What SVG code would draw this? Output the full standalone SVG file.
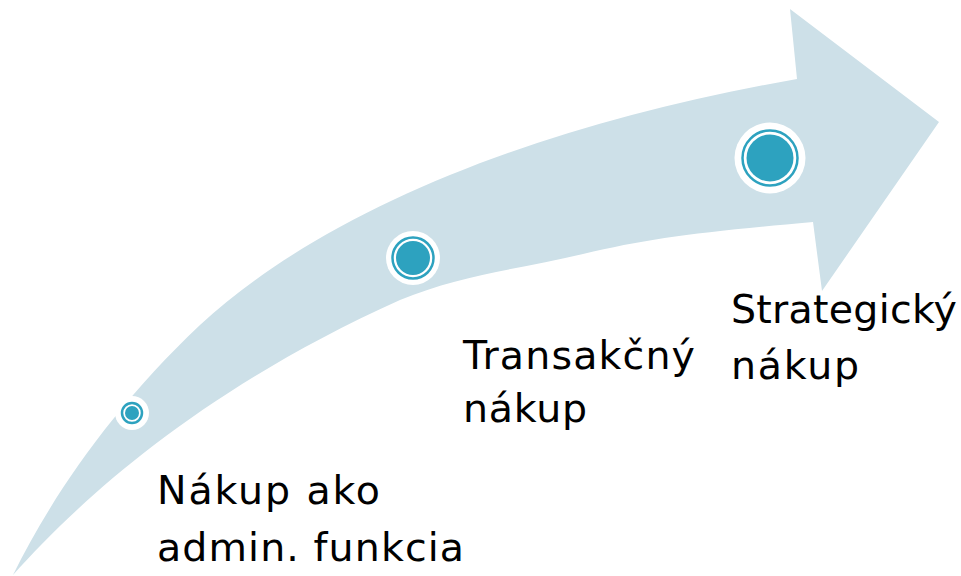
<svg xmlns="http://www.w3.org/2000/svg" width="961" height="576" viewBox="0 0 961 576">
<style>
.band{fill:#CDE0E8;}
.halo{fill:#FFFFFF;}
.ring{fill:none;stroke:#2DA2BF;stroke-width:2.5;}
.dot{fill:#2DA2BF;}
.lbl{font-family:"DejaVu Sans",Verdana,sans-serif;font-size:39.5px;fill:#000000;}
</style>
<rect width="961" height="576" fill="#FFFFFF"/>
<g id="arrow">
<path class="band" d="M13,575 C50,500 110,410 200,325 C330,205 550,122 797,79 L790,9 L939,122 L822,291 L813,222 C700,232 650,238 583,254 C520,269 460,275 400,300 C200,390 80,500 13,575 Z"/>
</g>
<g id="node1">
<circle class="halo" cx="132" cy="413" r="17"/>
<circle class="ring" cx="132" cy="413" r="10"/>
<circle class="dot" cx="132" cy="413" r="7"/>
<text class="lbl" x="157" y="504" textLength="223" lengthAdjust="spacing">Nákup ako</text>
<text class="lbl" x="157" y="561" textLength="307" lengthAdjust="spacing">admin. funkcia</text>
</g>
<g id="node2">
<circle class="halo" cx="413" cy="258" r="27"/>
<circle class="ring" cx="413" cy="258" r="20.5"/>
<circle class="dot" cx="413" cy="258" r="17"/>
<text class="lbl" x="463" y="369" textLength="232" lengthAdjust="spacing">Transakčný</text>
<text class="lbl" x="463" y="422" textLength="124" lengthAdjust="spacing">nákup</text>
</g>
<g id="node3">
<circle class="halo" cx="770" cy="158" r="35.5"/>
<circle class="ring" cx="770" cy="158" r="27.5"/>
<circle class="dot" cx="770" cy="158" r="23.5"/>
<text class="lbl" x="731" y="323" textLength="226" lengthAdjust="spacing">Strategický</text>
<text class="lbl" x="731" y="379" textLength="128" lengthAdjust="spacing">nákup</text>
</g>
<g id="connectors"></g>
</svg>
